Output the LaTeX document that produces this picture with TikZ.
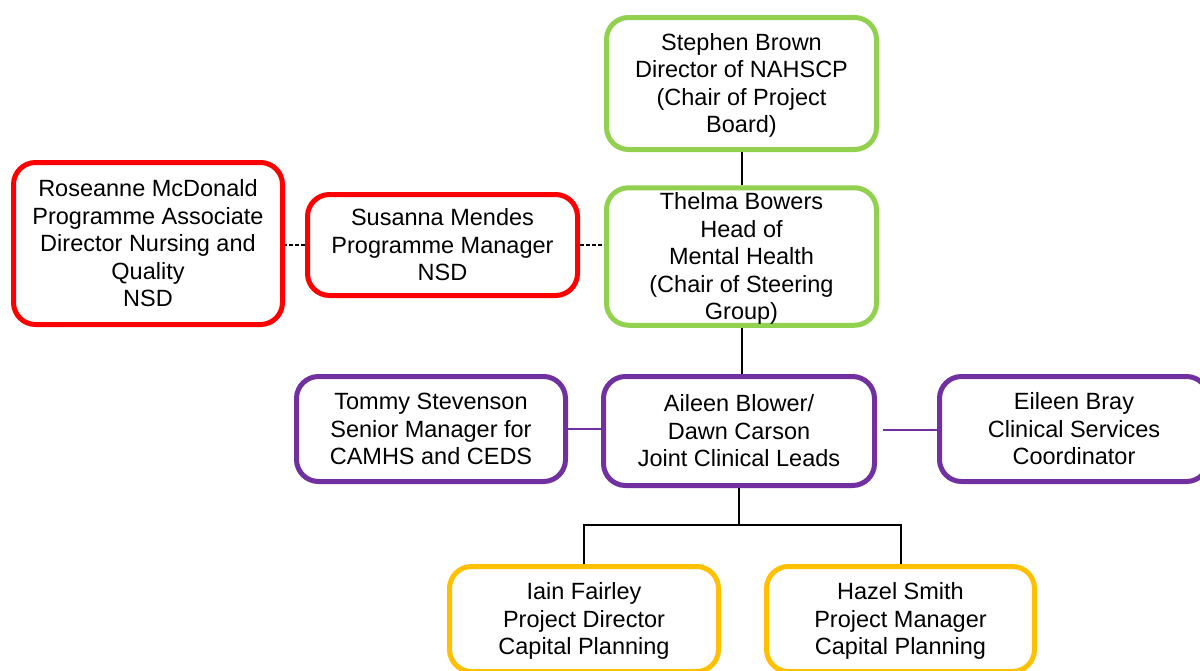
\documentclass[tikz,border=0pt]{standalone}
\usepackage{fontspec}
\setmainfont{Liberation Sans}
\definecolor{bgreen}{HTML}{92D050}
\definecolor{bred}{HTML}{FF0000}
\definecolor{bpurple}{HTML}{7030A0}
\definecolor{byellow}{HTML}{FFC000}
\newcommand{\boxtext}[1]{\raisebox{-2.5pt}[\height][\depth]{\begin{tabular}{@{}c@{}}#1\end{tabular}}}
\tikzset{
  orgbox/.style={draw=#1, line width=5pt, rounded corners=22pt, fill=white,
    inner sep=0pt, text=black,
    font=\fontsize{23.5}{27.5}\selectfont},
  link/.style={draw=black, line width=2pt},
  dashlink/.style={draw=black, line width=2pt, dash pattern=on 4pt off 2pt},
  plink/.style={draw=bpurple, line width=2pt}
}
\begin{document}
\begin{tikzpicture}[x=1pt,y=-1pt]
\useasboundingbox (0,0) rectangle (1200,670);
\node[orgbox=bgreen, minimum width=270pt, minimum height=132pt] (sb) at (741.5,83.5)
  {\boxtext{Stephen Brown\\Director of NAHSCP\\(Chair of Project\\Board)}};
\node[orgbox=bgreen, minimum width=270pt, minimum height=132pt] (tb) at (741.5,256.5)
  {\boxtext{Thelma Bowers\\Head of\\Mental Health\\(Chair of Steering\\Group)}};
\node[orgbox=bred, minimum width=270pt, minimum height=101pt] (sm) at (442.5,245)
  {\boxtext{Susanna Mendes\\Programme Manager\\NSD}};
\node[orgbox=bred, minimum width=269pt, minimum height=162pt] (rm) at (148,243.5)
  {\boxtext{Roseanne McDonald\\Programme Associate\\Director Nursing and\\Quality\\NSD}};
\node[orgbox=bpurple, minimum width=269pt, minimum height=105pt] (ts) at (431,429)
  {\boxtext{Tommy Stevenson\\Senior Manager for\\CAMHS and CEDS}};
\node[orgbox=bpurple, minimum width=271pt, minimum height=109pt] (ab) at (739,431)
  {\boxtext{Aileen Blower/\\Dawn Carson\\Joint Clinical Leads}};
\node[orgbox=bpurple, minimum width=269pt, minimum height=105pt] (eb) at (1074,429)
  {\boxtext{Eileen Bray\\Clinical Services\\Coordinator}};
\node[orgbox=byellow, minimum width=269pt, minimum height=105pt] (if) at (584,619)
  {\boxtext{Iain Fairley\\Project Director\\Capital Planning}};
\node[orgbox=byellow, minimum width=268pt, minimum height=105pt] (hs) at (900.5,619)
  {\boxtext{Hazel Smith\\Project Manager\\Capital Planning}};
% connectors
\draw[link] (sb.south) -- (tb.north);
\draw[link] (tb.south) -- (tb.south |- ab.north);
\draw[dashlink] (sm.west) -- (sm.west -| rm.east);
\draw[dashlink] (sm.east) -- (sm.east -| tb.west);
\draw[plink] (ts.east) -- (ts.east -| ab.west);
\path (ab.east) ++(6,-1) coordinate (ae);
\draw[plink] (ae) -- (ae -| eb.west);
\path (ab.south) ++(0,36.5) coordinate (j);
\draw[link] (ab.south) -- (j);
\draw[link] (if.north) |- (j) -| (hs.north);
\end{tikzpicture}
\end{document}
